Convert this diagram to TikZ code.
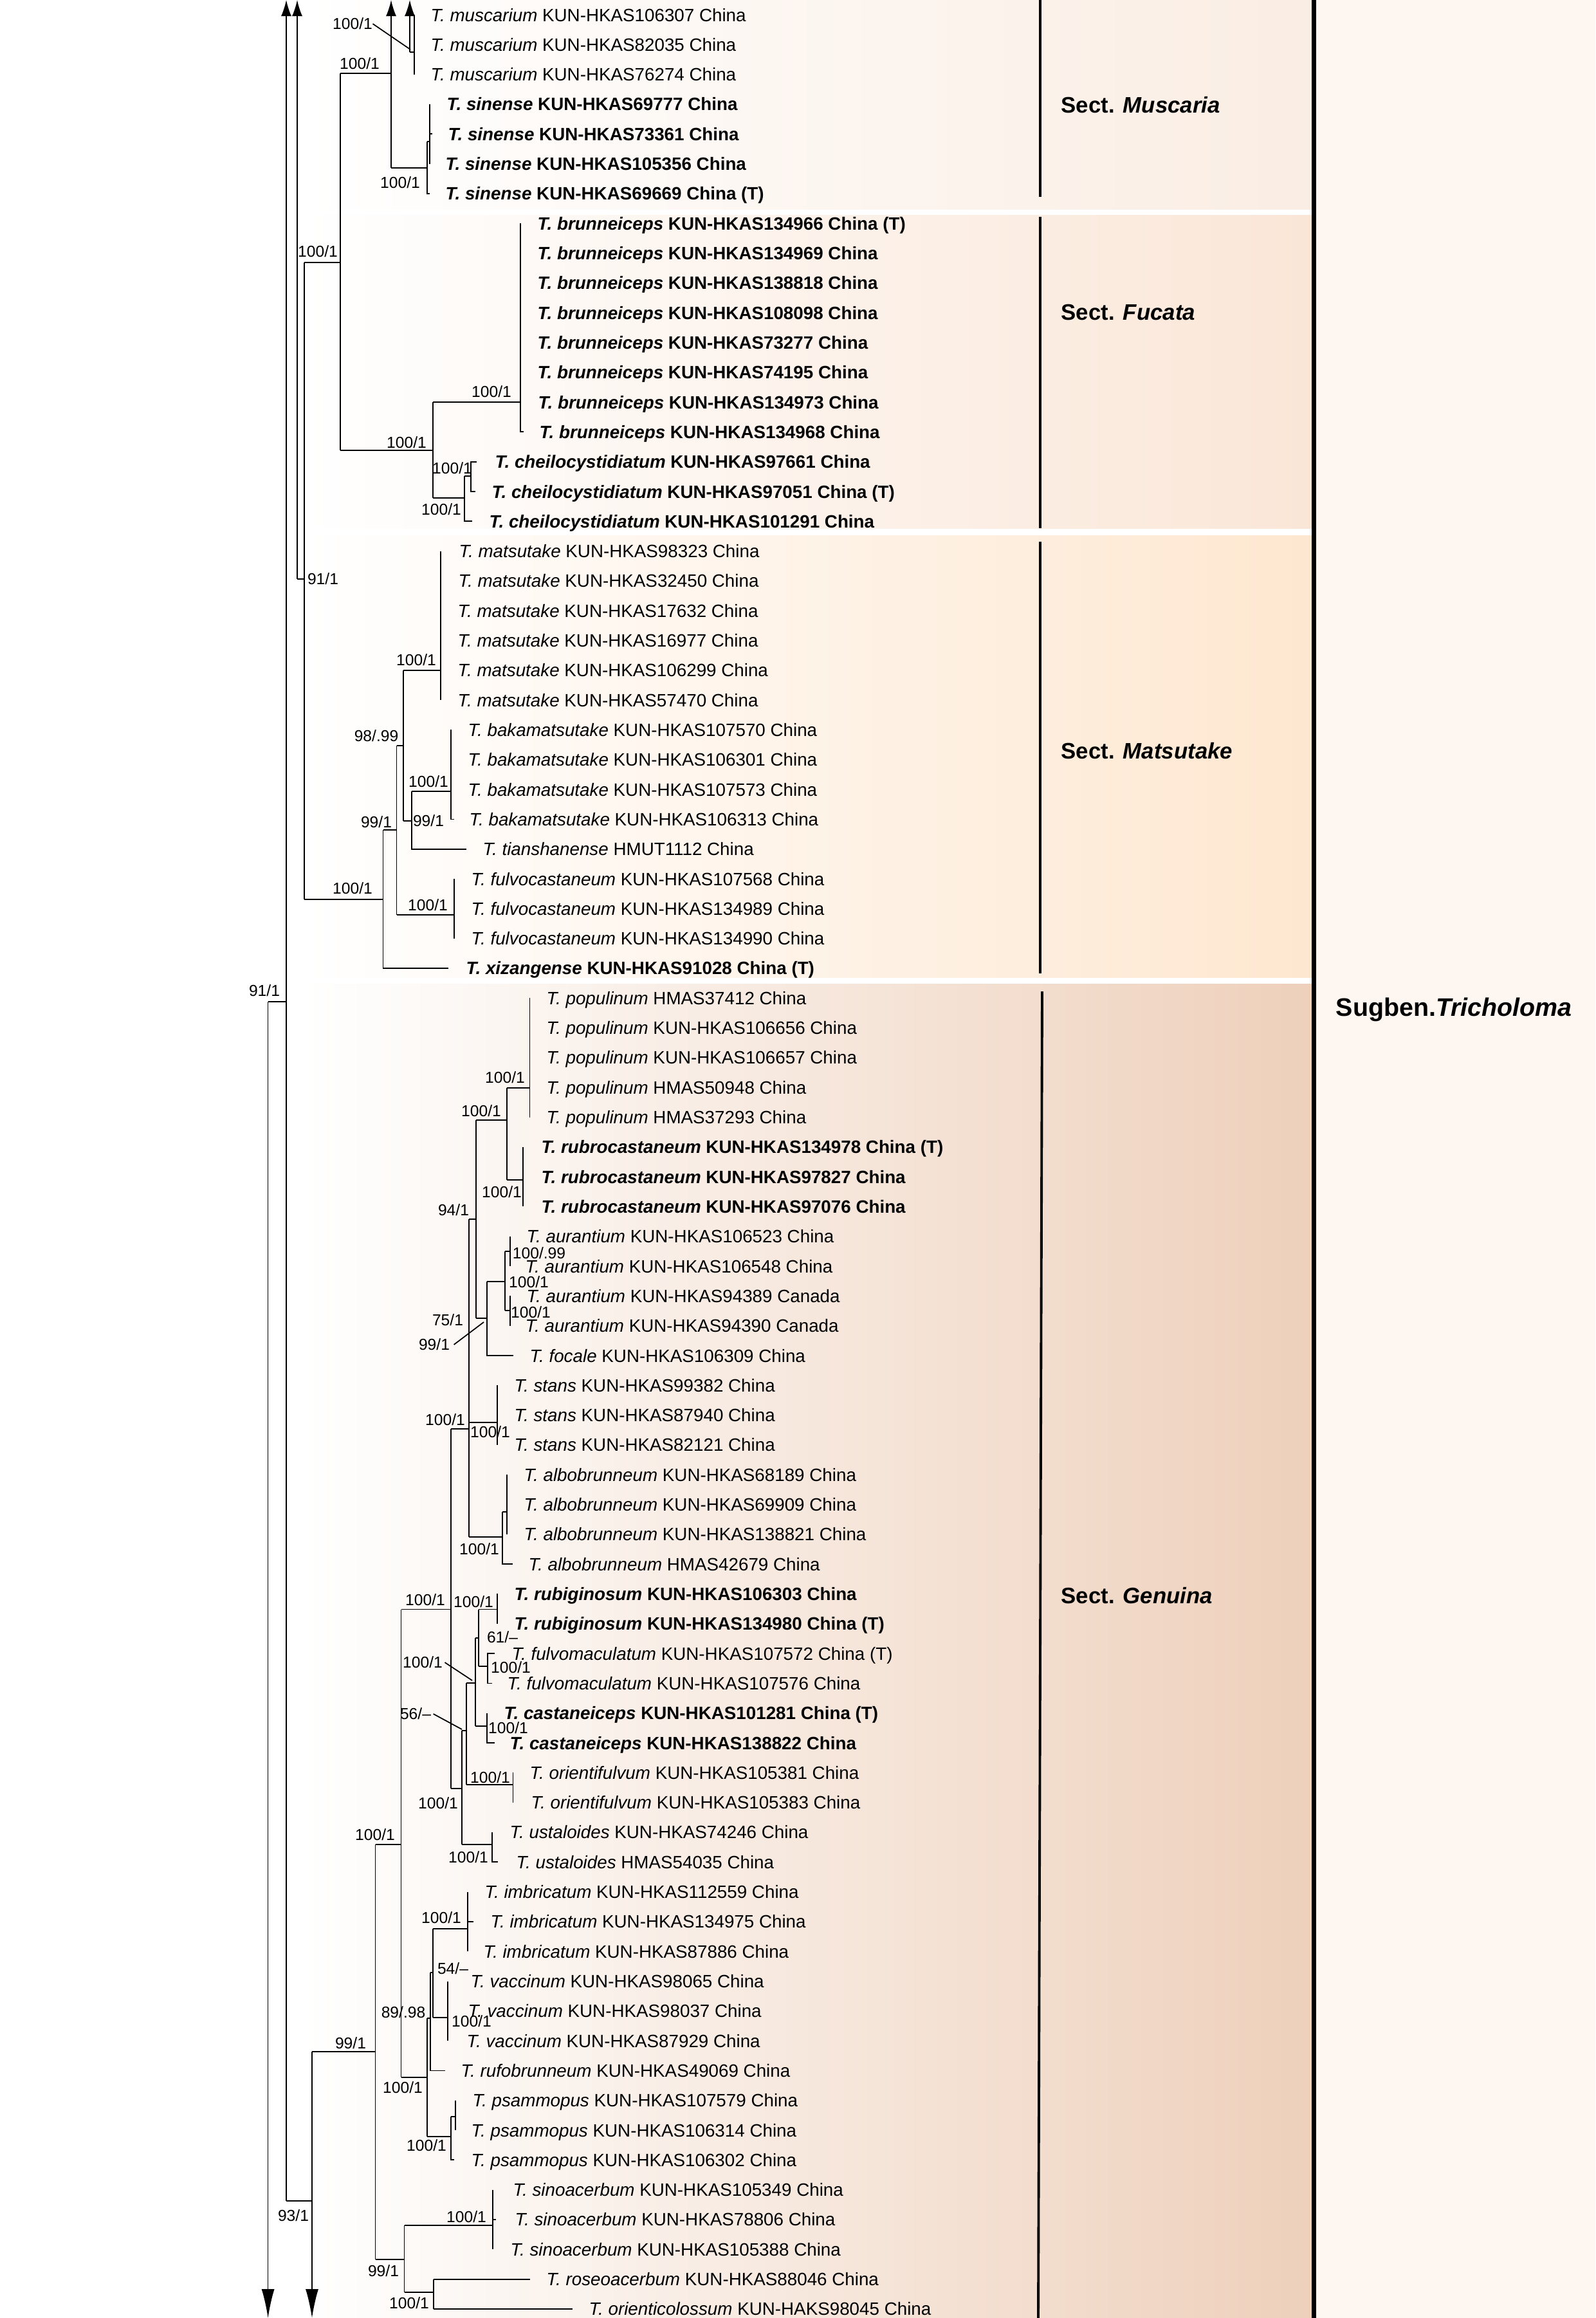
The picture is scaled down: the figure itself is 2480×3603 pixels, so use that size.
\documentclass[tikz,border=0pt]{standalone}
\usepackage{fontspec}
\setmainfont{Liberation Sans}
\usetikzlibrary{arrows.meta}
\begin{document}
\begin{tikzpicture}[x=0.01cm,y=-0.01cm,
    br/.style={line width=0.5pt},
    tip/.style={anchor=west,inner sep=0pt,text height=5.7pt,text depth=0pt,font=\fontsize{7.9pt}{9pt}\selectfont},
    tipb/.style={tip,font=\fontsize{7.9pt}{9pt}\selectfont\bfseries},
    bs/.style={inner sep=0pt,text height=5pt,text depth=0pt,font=\fontsize{7pt}{8pt}\selectfont},
    sect/.style={anchor=west,inner sep=0pt,text height=7.1pt,text depth=0pt,font=\fontsize{9.9pt}{11pt}\selectfont\bfseries},
    uparrow/.style={br,-{Latex[length=0.25cm,width=0.16cm]}},
    downarrow/.style={br,-{Latex[length=0.45cm,width=0.2cm]}}]
    \definecolor{muscbg}{RGB}{250,237,227}
    \definecolor{fucbg}{RGB}{250,230,215}
    \definecolor{matsbg}{RGB}{254,231,208}
    \definecolor{genbg}{RGB}{238,208,187}
    \definecolor{panelbg}{RGB}{254,246,240}
    \useasboundingbox (0,0) rectangle (2480,3603);
    \fill[white] (0,0) rectangle (2480,3603);
    % section bands
    \shade[left color=white,middle color=muscbg!80!white,right color=muscbg] (470,0) rectangle (2039,325);
    \shade[left color=white,middle color=fucbg!80!white,right color=fucbg] (470,334) rectangle (2039,821);
    \shade[left color=white,middle color=matsbg!80!white,right color=matsbg] (470,832) rectangle (2039,1519);
    \shade[left color=white,middle color=genbg!78!white,right color=genbg] (470,1529) rectangle (2039,3603);
    \fill[panelbg] (2045,0) rectangle (2480,3603);
    \draw[line width=0.07cm] (2042,0) to (2042,3603);
    \draw[line width=1.1pt] (1617,0) to (1617,306);
    \draw[line width=1.1pt] (1617,337) to (1617,821);
    \draw[line width=1.1pt] (1617,842) to (1617,1513);
    \draw[line width=1.1pt] (1620,1541) to (1614,3603);
    \node[sect] (muscaria) at (1649,163) {Sect. \textit{Muscaria}};
    \node[sect] (fucata) at (1649,485) {Sect. \textit{Fucata}};
    \node[sect] (matsutake) at (1649,1167) {Sect. \textit{Matsutake}};
    \node[sect] (genuina) at (1649,2480) {Sect. \textit{Genuina}};
    \node[anchor=west,inner sep=0pt,text height=8pt,text depth=0pt,font=\fontsize{11.2pt}{13pt}\selectfont\bfseries] (tricholoma) at (2076,1565) {Sugben.\textit{Tricholoma}};

    % backbone
    \draw[uparrow] (445,3421) to (445,0);
    \draw[br] (445,3421) to (485,3421);
    \draw[downarrow] (416.6,1557) to (416.6,3603);
    \draw[br] (416.6,1557) to (445,1557);
    \draw[uparrow] (462,900) to (462,0);
    \draw[br] (462,900) to (473,900) to (473,408);
    \draw[br] (473,900) to (473,1398);
    \draw[downarrow] (485,3188.6) to (485,3603);

    % Muscaria and Fucata
    \draw[br] (473,408) to (529,408);
    \draw[br] (529,114) to (529,700);
    \draw[br] (529,114) to (608,114);
    \draw[uparrow] (608,260.7) to (608,0);
    \draw[uparrow] (637,81) to (637,0);
    \draw[br] (637,81) to (644,81);
    \draw[br] (644,23) to (644,115.6);
    \draw[br] (608,260.7) to (664,260.7);
    \draw[br] (664,220) to (664,300.9) to (668,300.9);
    \draw[br] (664,220) to (668,220);
    \draw[br] (668,161.9) to (668,254.6);
    \draw[br] (668,208.2) to (672,208.2);
    \draw[br] (529,700) to (673,700);
    \draw[br] (673,625) to (673,774);
    \draw[br] (673,625) to (809,625);
    \draw[br] (809,347.2) to (809,671.3) to (814,671.3);
    \draw[br] (673,774) to (722,774);
    \draw[br] (722,740) to (722,810.3) to (734,810.3);
    \draw[br] (722,740) to (732,740);
    \draw[br] (741,717.7) to (732,717.7) to (732,764) to (739,764);

    % Matsutake
    \draw[br] (473,1398) to (595.5,1398);
    \draw[br] (595.5,1290) to (595.5,1504.9) to (697,1504.9);
    \draw[br] (595.5,1290) to (616.6,1290);
    \draw[br] (616.6,1159) to (616.6,1422);
    \draw[br] (616.6,1422) to (706,1422);
    \draw[br] (706,1366) to (706,1458.6);
    \draw[br] (616.6,1159) to (627,1159);
    \draw[br] (627,1042) to (627,1276);
    \draw[br] (627,1042) to (685,1042);
    \draw[br] (685,856.6) to (685,1088.1);
    \draw[br] (627,1276) to (640,1276);
    \draw[br] (640,1230) to (640,1319.7) to (725,1319.7);
    \draw[br] (640,1230) to (701,1230);
    \draw[br] (701,1134.4) to (701,1273.4) to (706,1273.4);

    % Genuina
    \draw[br] (485,3188.6) to (583.6,3188.6);
    \draw[br] (583.6,2867) to (583.6,3512);
    \draw[br] (583.6,2867) to (623.6,2867);
    \draw[br] (623.6,2501.5) to (623.6,3229);
    \draw[br] (623.6,2501.5) to (701,2501.5);
    \draw[br] (701,2221) to (701,2780);
    \draw[br] (701,2221) to (729,2221);
    \draw[br] (729,1895) to (729,2389);
    \draw[br] (729,1895) to (740,1895);
    \draw[br] (740,1741) to (740,2049);
    \draw[br] (740,1741) to (788,1741);
    \draw[br] (788,1691) to (788,1834);
    \draw[br] (788,1691) to (823.5,1691);
    \draw[br] (823.5,1551.2) to (823.5,1736.5);
    \draw[br] (788,1834) to (813,1834);
    \draw[br] (813,1782.8) to (813,1875.4);
    \draw[br] (740,2049) to (756.7,2049);
    \draw[br] (756.7,1991.7) to (756.7,2107) to (798,2107);
    \draw[br] (756.7,1991.7) to (785,1991.7);
    \draw[br] (785,1945) to (785,2036.7);
    \draw[br] (785,1945) to (792.7,1945);
    \draw[br] (792.7,1921.7) to (792.7,1968);
    \draw[br] (785,2036.7) to (792.7,2036.7);
    \draw[br] (792.7,2014.3) to (792.7,2060.6);
    \draw[br] (729,2211) to (773,2211);
    \draw[br] (773,2153.3) to (773,2245.9);
    \draw[br] (729,2389) to (781,2389);
    \draw[br] (781,2350) to (781,2431.1) to (797,2431.1);
    \draw[br] (781,2350) to (788,2350);
    \draw[br] (788,2292.2) to (788,2384.8);
    \draw[br] (701,2780) to (718,2780);
    \draw[br] (718,2690) to (718,2867);
    \draw[br] (718,2867) to (765,2867);
    \draw[br] (765,2847.9) to (765,2894.2) to (774,2894.2);
    \draw[br] (718,2690) to (725,2690);
    \draw[br] (725,2616) to (725,2774);
    \draw[br] (725,2774) to (797.6,2774);
    \draw[br] (797.6,2755.3) to (797.6,2801.6);
    \draw[br] (725,2616) to (739,2616);
    \draw[br] (739,2546) to (739,2683);
    \draw[br] (739,2683) to (757,2683);
    \draw[br] (757,2662.7) to (757,2709) to (769,2709);
    \draw[br] (739,2546) to (744,2546);
    \draw[br] (744,2501.5) to (744,2590);
    \draw[br] (744,2501.5) to (773,2501.5);
    \draw[br] (773,2477.4) to (773,2523.7);
    \draw[br] (744,2590) to (758,2590);
    \draw[br] (769,2570.1) to (758,2570.1) to (758,2616.4) to (765,2616.4);
    \draw[br] (623.6,3229) to (664,3229);
    \draw[br] (664,3137) to (664,3321);
    \draw[br] (664,3321) to (701,3321);
    \draw[br] (701,3290) to (701,3357.3) to (706,3357.3);
    \draw[br] (701,3290) to (708,3290);
    \draw[br] (708,3264.7) to (708,3311);
    \draw[br] (664,3137) to (669,3137);
    \draw[br] (669,3066) to (669,3218.4) to (692,3218.4);
    \draw[br] (669,3066) to (673,3066);
    \draw[br] (673,2998) to (673,3136);
    \draw[br] (673,2998) to (727,2998);
    \draw[br] (727,2940.5) to (727,3033.2);
    \draw[br] (727,2986.8) to (736,2986.8);
    \draw[br] (673,3136) to (696,3136);
    \draw[br] (696,3079.5) to (696,3172.1);
    \draw[br] (583.6,3512) to (628.5,3512);
    \draw[br] (628.5,3459) to (628.5,3563);
    \draw[br] (628.5,3459) to (766,3459);
    \draw[br] (766,3403.6) to (766,3496.3);
    \draw[br] (766,3449.9) to (771,3449.9);
    \draw[br] (628.5,3563) to (674,3563);
    \draw[br] (674,3542.6) to (674,3588.9);
    \draw[br] (674,3542.6) to (823.5,3542.6);
    \draw[br] (674,3588.9) to (890,3588.9);

    % support values
    \node[bs] (s1) at (548,37) {100/1};
    \draw[br] (s1.east) to (638,77);
    \node[bs] (s2) at (559,99) {100/1};
    \node[bs] (s3) at (622,284) {100/1};
    \node[bs] (s4) at (494,391) {100/1};
    \node[bs] (s5) at (632,688) {100/1};
    \node[bs] (s6) at (764,609) {100/1};
    \node[bs] (s7) at (686,792) {100/1};
    \node[bs] (s8) at (703,728) {100/1};
    \node[bs] (s9) at (502,900) {91/1};
    \node[bs] (s10) at (647,1026) {100/1};
    \node[bs] (s11) at (585,1144) {98/.99};
    \node[bs] (s12) at (666,1215) {100/1};
    \node[bs] (s13) at (666,1276) {99/1};
    \node[bs] (s14) at (585,1278) {99/1};
    \node[bs] (s15) at (548,1381) {100/1};
    \node[bs] (s16) at (665,1407) {100/1};
    \node[bs] (s17) at (411,1540) {91/1};
    \node[bs] (s18) at (785,1675) {100/1};
    \node[bs] (s19) at (748,1727) {100/1};
    \node[bs] (s20) at (780,1853) {100/1};
    \node[bs] (s21) at (705,1881) {94/1};
    \node[bs] (s22) at (838,1948) {100/.99};
    \node[bs] (s23) at (822,1993) {100/1};
    \node[bs] (s24) at (825,2040) {100/1};
    \node[bs] (s25) at (696,2052) {75/1};
    \node[bs] (s26) at (675,2090) {99/1};
    \draw[br] (s26.east) ++(6,0) to (752,2055);
    \node[bs] (s27) at (692,2207) {100/1};
    \node[bs] (s28) at (762,2226) {100/1};
    \node[bs] (s29) at (745,2408) {100/1};
    \node[bs] (s30) at (661,2487) {100/1};
    \node[bs] (s31) at (736,2490) {100/1};
    \node[bs] (s32) at (781,2545) {61/--};
    \node[bs] (s33) at (657,2584) {100/1};
    \draw[br] (s33.east) ++(3,0) to (734,2612);
    \node[bs] (s34) at (794,2592) {100/1};
    \node[bs] (s35) at (646,2664) {56/--};
    \draw[br] (s35.east) ++(3,0) to (718,2688);
    \node[bs] (s36) at (790,2686) {100/1};
    \node[bs] (s37) at (762,2763) {100/1};
    \node[bs] (s38) at (681,2803) {100/1};
    \node[bs] (s39) at (728,2887) {100/1};
    \node[bs] (s40) at (583,2852) {100/1};
    \node[bs] (s41) at (686,2981) {100/1};
    \node[bs] (s42) at (704,3060) {54/--};
    \node[bs] (s43) at (733,3142) {100/1};
    \node[bs] (s44) at (627,3128) {89/.98};
    \node[bs] (s45) at (545,3176) {99/1};
    \node[bs] (s46) at (626,3245) {100/1};
    \node[bs] (s47) at (663,3335) {100/1};
    \node[bs] (s48) at (456,3444) {93/1};
    \node[bs] (s49) at (725,3446) {100/1};
    \node[bs] (s50) at (596,3530) {99/1};
    \node[bs] (s51) at (636,3580) {100/1};

    % taxa
    \node[tip] (t1) at (669,23.0) {\textit{T. muscarium} KUN-HKAS106307 China};
    \node[tip] (t2) at (669,69.3) {\textit{T. muscarium} KUN-HKAS82035 China};
    \node[tip] (t3) at (669,115.6) {\textit{T. muscarium} KUN-HKAS76274 China};
    \node[tipb] (t4) at (694,161.9) {\textit{T. sinense} KUN-HKAS69777 China};
    \node[tipb] (t5) at (696,208.2) {\textit{T. sinense} KUN-HKAS73361 China};
    \node[tipb] (t6) at (692,254.6) {\textit{T. sinense} KUN-HKAS105356 China};
    \node[tipb] (t7) at (692,300.9) {\textit{T. sinense} KUN-HKAS69669 China (T)};
    \node[tipb] (t8) at (835,347.2) {\textit{T. brunneiceps} KUN-HKAS134966 China (T)};
    \node[tipb] (t9) at (835,393.5) {\textit{T. brunneiceps} KUN-HKAS134969 China};
    \node[tipb] (t10) at (835,439.8) {\textit{T. brunneiceps} KUN-HKAS138818 China};
    \node[tipb] (t11) at (835,486.1) {\textit{T. brunneiceps} KUN-HKAS108098 China};
    \node[tipb] (t12) at (835,532.4) {\textit{T. brunneiceps} KUN-HKAS73277 China};
    \node[tipb] (t13) at (835,578.7) {\textit{T. brunneiceps} KUN-HKAS74195 China};
    \node[tipb] (t14) at (836,625.0) {\textit{T. brunneiceps} KUN-HKAS134973 China};
    \node[tipb] (t15) at (838,671.3) {\textit{T. brunneiceps} KUN-HKAS134968 China};
    \node[tipb] (t16) at (769,717.7) {\textit{T. cheilocystidiatum} KUN-HKAS97661 China};
    \node[tipb] (t17) at (764,764.0) {\textit{T. cheilocystidiatum} KUN-HKAS97051 China (T)};
    \node[tipb] (t18) at (760,810.3) {\textit{T. cheilocystidiatum} KUN-HKAS101291 China};
    \node[tip] (t19) at (713,856.6) {\textit{T. matsutake} KUN-HKAS98323 China};
    \node[tip] (t20) at (712,902.9) {\textit{T. matsutake} KUN-HKAS32450 China};
    \node[tip] (t21) at (711,949.2) {\textit{T. matsutake} KUN-HKAS17632 China};
    \node[tip] (t22) at (711,995.5) {\textit{T. matsutake} KUN-HKAS16977 China};
    \node[tip] (t23) at (711,1041.8) {\textit{T. matsutake} KUN-HKAS106299 China};
    \node[tip] (t24) at (711,1088.1) {\textit{T. matsutake} KUN-HKAS57470 China};
    \node[tip] (t25) at (727,1134.4) {\textit{T. bakamatsutake} KUN-HKAS107570 China};
    \node[tip] (t26) at (727,1180.8) {\textit{T. bakamatsutake} KUN-HKAS106301 China};
    \node[tip] (t27) at (727,1227.1) {\textit{T. bakamatsutake} KUN-HKAS107573 China};
    \node[tip] (t28) at (729,1273.4) {\textit{T. bakamatsutake} KUN-HKAS106313 China};
    \node[tip] (t29) at (750,1319.7) {\textit{T. tianshanense} HMUT1112 China};
    \node[tip] (t30) at (732,1366.0) {\textit{T. fulvocastaneum} KUN-HKAS107568 China};
    \node[tip] (t31) at (732,1412.3) {\textit{T. fulvocastaneum} KUN-HKAS134989 China};
    \node[tip] (t32) at (732,1458.6) {\textit{T. fulvocastaneum} KUN-HKAS134990 China};
    \node[tipb] (t33) at (724,1504.9) {\textit{T. xizangense} KUN-HKAS91028 China (T)};
    \node[tip] (t34) at (849,1551.2) {\textit{T. populinum} HMAS37412 China};
    \node[tip] (t35) at (849,1597.5) {\textit{T. populinum} KUN-HKAS106656 China};
    \node[tip] (t36) at (849,1643.9) {\textit{T. populinum} KUN-HKAS106657 China};
    \node[tip] (t37) at (849,1690.2) {\textit{T. populinum} HMAS50948 China};
    \node[tip] (t38) at (849,1736.5) {\textit{T. populinum} HMAS37293 China};
    \node[tipb] (t39) at (841,1782.8) {\textit{T. rubrocastaneum} KUN-HKAS134978 China (T)};
    \node[tipb] (t40) at (841,1829.1) {\textit{T. rubrocastaneum} KUN-HKAS97827 China};
    \node[tipb] (t41) at (841,1875.4) {\textit{T. rubrocastaneum} KUN-HKAS97076 China};
    \node[tip] (t42) at (818,1921.7) {\textit{T. aurantium} KUN-HKAS106523 China};
    \node[tip] (t43) at (816,1968.0) {\textit{T. aurantium} KUN-HKAS106548 China};
    \node[tip] (t44) at (818,2014.3) {\textit{T. aurantium} KUN-HKAS94389 Canada};
    \node[tip] (t45) at (816,2060.6) {\textit{T. aurantium} KUN-HKAS94390 Canada};
    \node[tip] (t46) at (823,2107.0) {\textit{T. focale} KUN-HKAS106309 China};
    \node[tip] (t47) at (799,2153.3) {\textit{T. stans} KUN-HKAS99382 China};
    \node[tip] (t48) at (799,2199.6) {\textit{T. stans} KUN-HKAS87940 China};
    \node[tip] (t49) at (799,2245.9) {\textit{T. stans} KUN-HKAS82121 China};
    \node[tip] (t50) at (814,2292.2) {\textit{T. albobrunneum} KUN-HKAS68189 China};
    \node[tip] (t51) at (814,2338.5) {\textit{T. albobrunneum} KUN-HKAS69909 China};
    \node[tip] (t52) at (814,2384.8) {\textit{T. albobrunneum} KUN-HKAS138821 China};
    \node[tip] (t53) at (821,2431.1) {\textit{T. albobrunneum} HMAS42679 China};
    \node[tipb] (t54) at (799,2477.4) {\textit{T. rubiginosum} KUN-HKAS106303 China};
    \node[tipb] (t55) at (799,2523.7) {\textit{T. rubiginosum} KUN-HKAS134980 China (T)};
    \node[tip] (t56) at (795,2570.1) {\textit{T. fulvomaculatum} KUN-HKAS107572 China (T)};
    \node[tip] (t57) at (788,2616.4) {\textit{T. fulvomaculatum} KUN-HKAS107576 China};
    \node[tipb] (t58) at (783,2662.7) {\textit{T. castaneiceps} KUN-HKAS101281 China (T)};
    \node[tipb] (t59) at (792,2709.0) {\textit{T. castaneiceps} KUN-HKAS138822 China};
    \node[tip] (t60) at (823,2755.3) {\textit{T. orientifulvum} KUN-HKAS105381 China};
    \node[tip] (t61) at (825,2801.6) {\textit{T. orientifulvum} KUN-HKAS105383 China};
    \node[tip] (t62) at (792,2847.9) {\textit{T. ustaloides} KUN-HKAS74246 China};
    \node[tip] (t63) at (802,2894.2) {\textit{T. ustaloides} HMAS54035 China};
    \node[tip] (t64) at (753,2940.5) {\textit{T. imbricatum} KUN-HKAS112559 China};
    \node[tip] (t65) at (762,2986.8) {\textit{T. imbricatum} KUN-HKAS134975 China};
    \node[tip] (t66) at (751,3033.2) {\textit{T. imbricatum} KUN-HKAS87886 China};
    \node[tip] (t67) at (731,3079.5) {\textit{T. vaccinum} KUN-HKAS98065 China};
    \node[tip] (t68) at (727,3125.8) {\textit{T. vaccinum} KUN-HKAS98037 China};
    \node[tip] (t69) at (725,3172.1) {\textit{T. vaccinum} KUN-HKAS87929 China};
    \node[tip] (t70) at (716,3218.4) {\textit{T. rufobrunneum} KUN-HKAS49069 China};
    \node[tip] (t71) at (734,3264.7) {\textit{T. psammopus} KUN-HKAS107579 China};
    \node[tip] (t72) at (732,3311.0) {\textit{T. psammopus} KUN-HKAS106314 China};
    \node[tip] (t73) at (732,3357.3) {\textit{T. psammopus} KUN-HKAS106302 China};
    \node[tip] (t74) at (797,3403.6) {\textit{T. sinoacerbum} KUN-HKAS105349 China};
    \node[tip] (t75) at (800,3449.9) {\textit{T. sinoacerbum} KUN-HKAS78806 China};
    \node[tip] (t76) at (793,3496.3) {\textit{T. sinoacerbum} KUN-HKAS105388 China};
    \node[tip] (t77) at (849,3542.6) {\textit{T. roseoacerbum} KUN-HKAS88046 China};
    \node[tip] (t78) at (915,3588.9) {\textit{T. orienticolossum} KUN-HAKS98045 China};
\end{tikzpicture}
\end{document}
